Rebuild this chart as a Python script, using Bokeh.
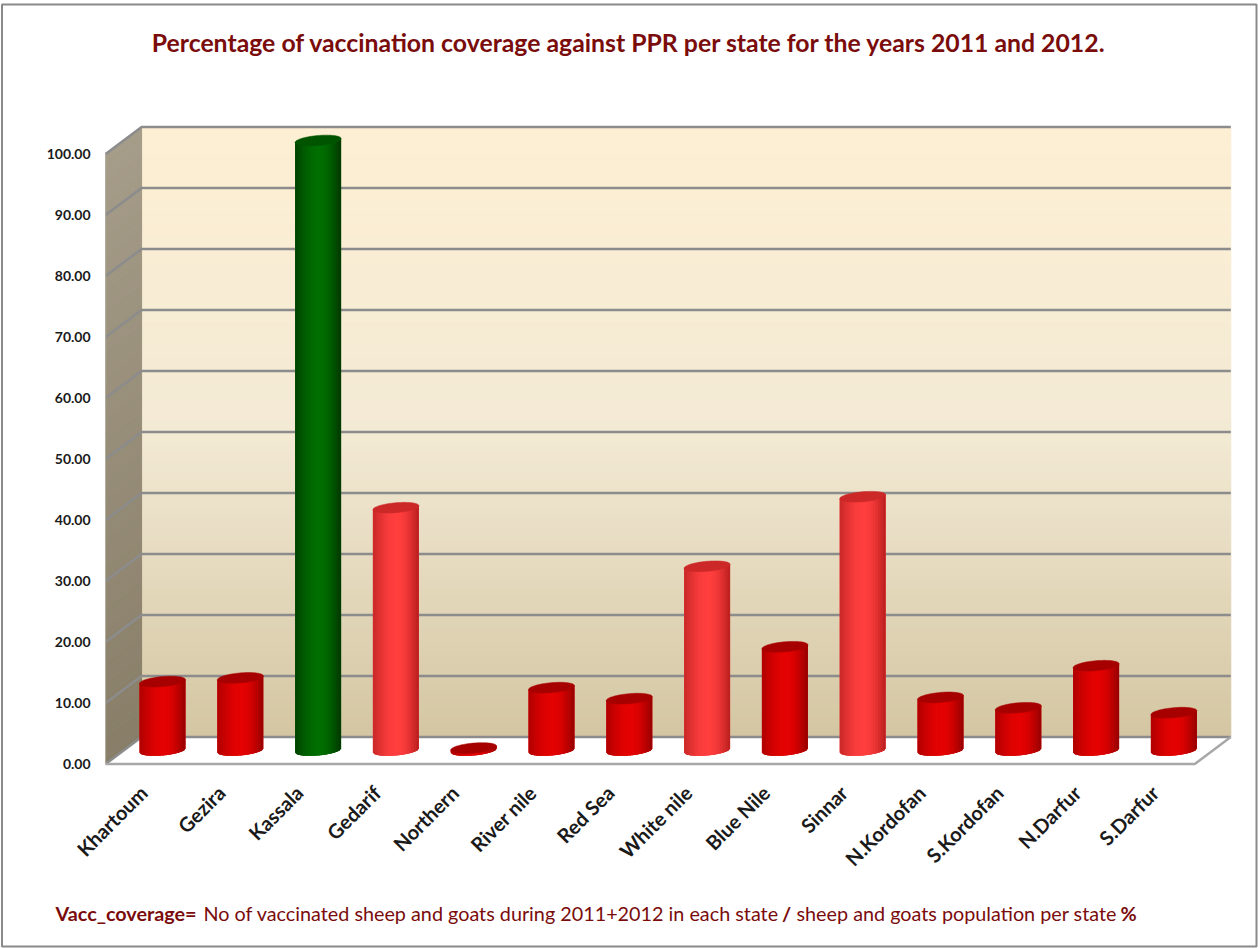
import numpy as np
from bokeh.plotting import figure
from bokeh.models import Range1d
from bokeh.embed import file_html
from bokeh.resources import INLINE
from bokeh.core.properties import value

# ---------------- data ----------------
states = ["Khartoum", "Gezira", "Kassala", "Gedarif", "Northern", "River nile", "Red Sea",
          "White nile", "Blue Nile", "Sinnar", "N.Kordofan", "S.Kordofan", "N.Darfur", "S.Darfur"]
coverage = [11.3, 11.9, 100.0, 39.8, 0.4, 10.3, 8.5, 30.2, 17.0, 41.6, 8.7, 7.0, 13.9, 6.2]
bar_shade = ["dark", "dark", "green", "bright", "dark", "dark", "dark",
             "bright", "dark", "bright", "dark", "dark", "dark", "dark"]
y_ticks = [0, 10, 20, 30, 40, 50, 60, 70, 80, 90, 100]
y_tick_labels = ["%.2f" % t for t in y_ticks]
title_text = "Percentage of vaccination coverage against PPR per state for the years 2011 and 2012."
foot_bold_1 = "Vacc_coverage="
foot_text_1 = "No of vaccinated sheep and goats during 2011+2012 in each state"
foot_bold_2 = "/"
foot_text_2 = "sheep and goats population per state"
foot_bold_3 = "%"

# ---------------- geometry / style ----------------
W, H = 1258, 948
X0_PX, DX_PX = 162.0, 77.8      # pixel x of first category centre, category pitch
Y0_PX, DY_PX = 750.0, 6.1       # pixel y of value 0 (mid depth), pixels per unit

def sx(px):
    return px / DX_PX

def sy(px):
    return px / DY_PX

def dxp(px):  # absolute pixel x -> data
    return (px - X0_PX) / DX_PX

def dyp(py):  # absolute pixel y -> data
    return (Y0_PX - py) / DY_PX

x_range = Range1d(dxp(0), dxp(W))
y_range = Range1d(dyp(H), dyp(0))

p = figure(width=W, height=H, x_range=x_range, y_range=y_range,
           output_backend="svg", toolbar_location=None, min_border=0,
           x_axis_type=None, y_axis_type=None)
p.outline_line_color = None
p.background_fill_color = "white"
p.border_fill_color = "white"
p.grid.visible = False

ox, oy = sx(18), sy(13.5)
xl, xr = -0.5, len(states) - 0.5
ymax = y_ticks[-1]

def hexc(c):
    return "#%02x%02x%02x" % tuple(int(round(max(0, min(255, v)))) for v in c)

def mix(a, b, t):
    return tuple(a[k] + (b[k] - a[k]) * t for k in range(3))

# back wall gradient
n = 90
edges = np.linspace(0, ymax, n + 1)
top_c, mid_c, bot_c = (253, 239, 211), (243, 234, 213), (212, 198, 162)
cols = []
for k in range(n):
    s = 1 - (edges[k] + edges[k + 1]) / 2 / ymax  # 0 at top
    c = mix(top_c, mid_c, s / 0.5) if s < 0.5 else mix(mid_c, bot_c, (s - 0.5) / 0.5)
    cols.append(hexc(c))
p.quad(left=xl + ox, right=xr + ox, bottom=edges[:-1] + oy, top=edges[1:] + oy,
       fill_color=cols, line_color=cols, line_width=1)

# left wall gradient
lw_top, lw_bot = (165, 156, 137), (136, 126, 104)
xs, ys, lcols = [], [], []
for k in range(n):
    a, b = edges[k], edges[k + 1]
    xs.append([xl - ox, xl + ox, xl + ox, xl - ox])
    ys.append([a - oy, a + oy, b + oy, b - oy])
    lcols.append(hexc(mix(lw_bot, lw_top, (a + b) / 2 / ymax)))
p.patches(xs, ys, fill_color=lcols, line_color=lcols, line_width=1)

# floor
p.patch([xl - ox, xr - ox, xr + ox, xl + ox], [-oy, -oy, oy, oy],
        fill_color="white", line_color=None)

# grid lines (back wall + left wall)
gx, gy = [], []
for t in y_ticks:
    gx.append([xl - ox, xl + ox, xr + ox])
    gy.append([t - oy, t + oy, t + oy])
p.multi_line(gx, gy, line_color="#8c8c8c", line_width=2.5)
# floor edges
p.line([xl - ox, xr - ox, xr + ox], [-oy, -oy, oy], line_color="#a8a8a8", line_width=2.5)
p.line([xl - ox, xl - ox], [-oy, ymax - oy], line_color="#b5ae9e", line_width=1)

# cylinders
shades = {
    "dark": dict(left=(175, 0, 0), mid=(228, 2, 2), right=(150, 0, 0), top=(166, 0, 0)),
    "bright": dict(left=(200, 40, 40), mid=(255, 62, 62), right=(185, 30, 30), top=(204, 40, 40)),
    "green": dict(left=(0, 66, 0), mid=(0, 110, 0), right=(0, 54, 0), top=(0, 84, 0)),
}
bw = sx(46)         # cylinder width
eh = sy(10)         # ellipse height
slope = 0.085 * DX_PX / DY_PX  # slight tilt of the ellipses
ns = 18

def bot(u):
    return -(eh / 2) * np.sqrt(max(0.0, 1 - (2 * u / bw) ** 2)) + slope * u

def shade_at(pal, t, tcen=0.52):
    if t < tcen:
        return mix(pal["left"], pal["mid"], np.sin(np.pi / 2 * t / tcen))
    return mix(pal["right"], pal["mid"], np.sin(np.pi / 2 * (1 - t) / (1 - tcen)))

bx, by, bc = [], [], []      # base silhouettes
cx, cy, cc = [], [], []      # shading strips
tx, ty, tc = [], [], []      # top ellipses
uu = np.linspace(-bw / 2, bw / 2, 41)
for i, (v, shade) in enumerate(zip(coverage, bar_shade)):
    pal = shades[shade]
    bx.append([i - bw / 2, i + bw / 2] + [i + u for u in uu[::-1]])
    by.append([v - slope * bw / 2, v + slope * bw / 2] + [bot(u) for u in uu[::-1]])
    bc.append(hexc(shade_at(pal, 0.5)))
    for k in range(ns):
        ua = -bw / 2 + k * bw / ns
        ub = min(bw / 2, ua + 1.5 * bw / ns)   # overlap to avoid seams
        t = (k + 0.5) / ns
        um = (ua + ub) / 2
        cx.append([i + ua, i + ub, i + ub, i + um, i + ua])
        cy.append([v + slope * ua, v + slope * ub, bot(ub), bot(um), bot(ua)])
        cc.append(hexc(shade_at(pal, t)))
    th = np.linspace(0, 2 * np.pi, 72)
    tx.append(list(i + bw / 2 * np.cos(th)))
    ty.append(list(v + eh / 2 * np.sin(th) + slope * bw / 2 * np.cos(th)))
    tc.append(hexc(pal["top"]))
p.patches(bx, by, fill_color=bc, line_color=None)
p.patches(cx, cy, fill_color=cc, line_color=None)
p.patches(tx, ty, fill_color=tc, line_color=tc, line_width=0.5)

# y tick labels (front plane)
p.text(x=[xl - ox - sx(15)] * len(y_ticks), y=[t - oy for t in y_ticks], text=y_tick_labels,
       text_font=value("Lato"), text_font_style="bold", text_font_size="14px",
       text_color="#1a1a1a", text_align="right", text_baseline="middle")

# category labels
p.text(x=[i - ox - sx(1) for i in range(len(states))], y=[-oy - sy(25)] * len(states),
       text=states, angle=np.pi / 4,
       text_font=value("Lato"), text_font_style="bold", text_font_size="20px",
       text_color="#1a1a1a", text_align="right", text_baseline="middle")

# title
maroon = "#7a0c0c"
p.text(x=[dxp(629)], y=[dyp(42)], text=[title_text], text_font=value("Lato"),
       text_font_style="bold", text_font_size="24.8px", text_color=maroon,
       text_align="center", text_baseline="middle")

# footnote
fy = dyp(912)
fs = "19.8px"
p.text(x=[dxp(55)], y=[fy], text=[foot_bold_1], text_font=value("Lato"), text_font_style="bold",
       text_font_size=fs, text_color=maroon, text_align="left", text_baseline="middle")
p.text(x=[dxp(203)], y=[fy], text=[foot_text_1], text_font=value("Lato"),
       text_font_size=fs, text_color=maroon, text_align="left", text_baseline="middle")
p.text(x=[dxp(786)], y=[fy], text=[foot_bold_2], text_font=value("Lato"), text_font_style="bold",
       text_font_size=fs, text_color=maroon, text_align="center", text_baseline="middle")
p.text(x=[dxp(796)], y=[fy], text=[foot_text_2], text_font=value("Lato"),
       text_font_size=fs, text_color=maroon, text_align="left", text_baseline="middle")
p.text(x=[dxp(1120)], y=[fy], text=[foot_bold_3], text_font=value("Lato"), text_font_style="bold",
       text_font_size=fs, text_color=maroon, text_align="left", text_baseline="middle")

# outer border
p.quad(left=dxp(1.5), right=dxp(1256), bottom=dyp(946), top=dyp(4),
       fill_color=None, line_color="#8a8a8a", line_width=2)

open("out.html", "w").write(file_html(p, INLINE))
